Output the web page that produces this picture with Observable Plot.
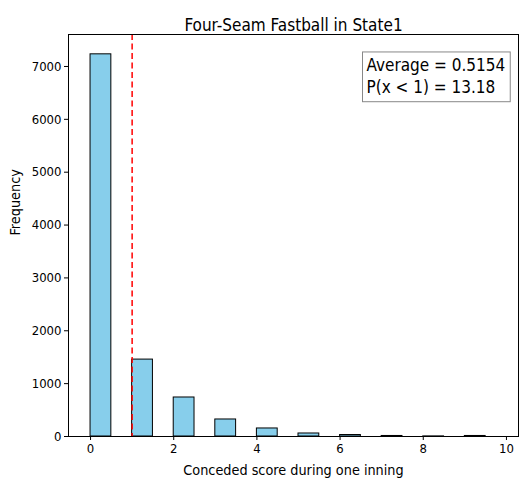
<!DOCTYPE html>
<html>
<head>
<meta charset="utf-8">
<script src="https://cdn.jsdelivr.net/npm/d3@7"></script>
<script src="https://cdn.jsdelivr.net/npm/@observablehq/plot@0.6"></script>
<style>
  html, body { margin: 0; padding: 0; background: #fff; }
  #chart { width: 521px; height: 484px; }
  svg text { font-family: "DejaVu Sans Condensed", "DejaVu Sans", sans-serif; }
</style>
</head>
<body>
<div id="chart"></div>
<script>
// Histogram bins (bin width 0.5; only the bins holding data are listed)
const binLo = [0, 1, 2, 3, 4, 5, 6, 7, 8, 9];
const binHi = [0.5, 1.5, 2.5, 3.5, 4.5, 5.5, 6.5, 7.5, 8.5, 9.5];
const counts = [7230, 1455, 738, 322, 152, 57, 28, 10, 2, 10];
const threshold = [1];
const xTicks = [0, 2, 4, 6, 8, 10];
const yTicks = [0, 1000, 2000, 3000, 4000, 5000, 6000, 7000];
const titleText = "Four-Seam Fastball in State1";
const xLabel = "Conceded score during one inning";
const yLabel = "Frequency";
const statLines = ["Average = 0.5154", "P(x < 1) = 13.18"];

const bins = binLo.map((lo, i) => ({lo, hi: binHi[i], count: counts[i]}));
const fmt = d3.format("d");

const chart = Plot.plot({
  width: 521,
  height: 484,
  marginLeft: 68,
  marginRight: 3,
  marginTop: 34,
  marginBottom: 48,
  style: {fontFamily: '"DejaVu Sans Condensed", "DejaVu Sans", sans-serif', fontSize: "13px", color: "#000", background: "#fff"},
  x: {domain: [-0.53, 10.29]},
  y: {domain: [0, 7605]},
  marks: [
    Plot.rectY(bins, {x1: "lo", x2: "hi", y: "count", fill: "#87CEEB", stroke: "#000", strokeWidth: 1, inset: 0}),
    Plot.ruleX(threshold, {stroke: "red", strokeWidth: 1.5, strokeDasharray: "6,3.5"}),
    Plot.frame({stroke: "#000", strokeWidth: 1}),
    Plot.axisX({ticks: xTicks, tickFormat: fmt, tickSize: 4, tickPadding: 3, fontSize: 13, label: null}),
    Plot.axisY({ticks: yTicks, tickFormat: fmt, tickSize: 4, tickPadding: 3, fontSize: 13, label: null}),
    Plot.text([titleText], {frameAnchor: "top", dy: -16, fontSize: 17, fill: "#000"}),
    Plot.text([xLabel], {frameAnchor: "bottom", dy: 38, fontSize: 14.3, fill: "#000"}),
    Plot.text([yLabel], {frameAnchor: "left", dx: -53, rotate: -90, fontSize: 14.3, fill: "#000"}),
    Plot.text([statLines.join("\n")], {frameAnchor: "top-right", dx: -152, dy: 21, textAnchor: "start", lineAnchor: "top", fontSize: 17, lineHeight: 1.28, fill: "#000", className: "statbox"})
  ]
});
document.getElementById("chart").appendChild(chart);

// Draw the legend-style box around the stats text
const statG = chart.querySelector("g.statbox");
const statText = statG && statG.querySelector("text");
if (statText) {
  const bb = statText.getBBox();
  const pad = 4;
  const rect = document.createElementNS("http://www.w3.org/2000/svg", "rect");
  rect.setAttribute("x", bb.x - pad);
  rect.setAttribute("y", bb.y - 3);
  rect.setAttribute("width", bb.width + 2 * pad + 1);
  rect.setAttribute("height", bb.height + 8);
  rect.setAttribute("fill", "#fff");
  rect.setAttribute("stroke", "#888");
  rect.setAttribute("stroke-width", 1);
  const tr = statText.getAttribute("transform");
  if (tr) rect.setAttribute("transform", tr);
  statG.insertBefore(rect, statText);
}
</script>
</body>
</html>
